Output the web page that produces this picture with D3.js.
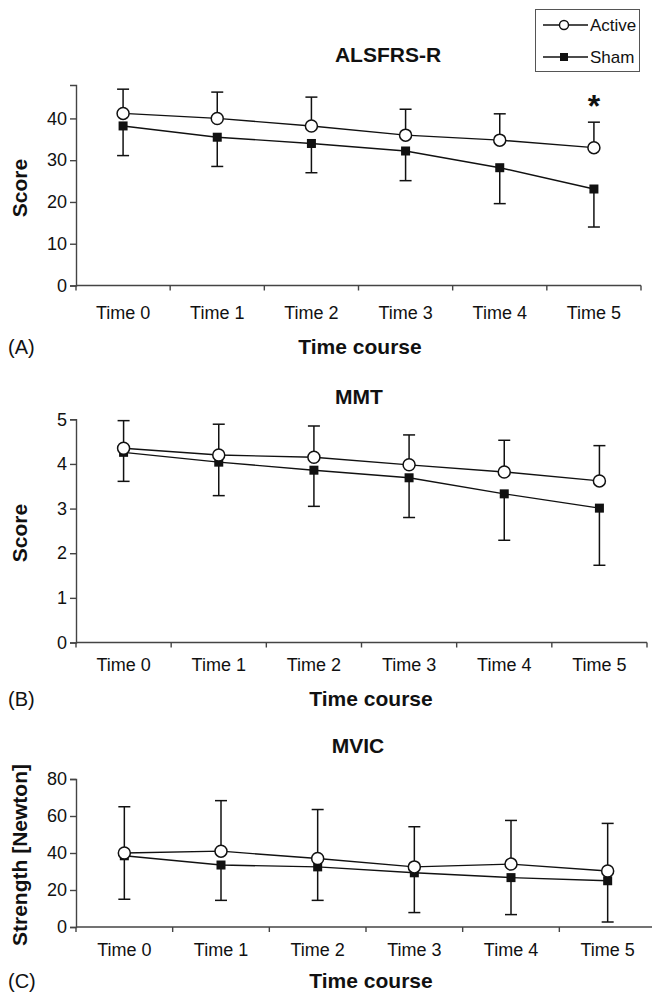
<!DOCTYPE html>
<html>
<head>
<meta charset="utf-8">
<script src="https://cdnjs.cloudflare.com/ajax/libs/d3/7.8.5/d3.min.js"></script>
<style>
  body { margin: 0; background: #fff; }
  text { font-family: "Liberation Sans", Arial, sans-serif; fill: #111; }
</style>
</head>
<body>
<div id="chart"></div>
<script>
// categories
let timePoints = ["Time 0", "Time 1", "Time 2", "Time 3", "Time 4", "Time 5"];

// (A) ALSFRS-R
let alsActive = [41.2, 40.0, 38.2, 36.0, 34.8, 33.0];
let alsActiveUpper = [47.0, 46.3, 45.1, 42.2, 41.1, 39.1];
let alsSham = [38.2, 35.5, 34.0, 32.2, 28.2, 23.1];
let alsShamLower = [31.1, 28.5, 27.0, 25.1, 19.6, 14.0];
let alsTicks = [0, 10, 20, 30, 40];

// (B) MMT
let mmtActive = [4.35, 4.20, 4.15, 3.98, 3.82, 3.62];
let mmtActiveUpper = [4.97, 4.89, 4.85, 4.65, 4.53, 4.41];
let mmtSham = [4.26, 4.04, 3.86, 3.69, 3.33, 3.01];
let mmtShamLower = [3.61, 3.29, 3.05, 2.80, 2.29, 1.73];
let mmtTicks = [0, 1, 2, 3, 4, 5];

// (C) MVIC
let mvicActive = [40.0, 41.0, 37.0, 32.5, 34.0, 30.3];
let mvicActiveUpper = [65.0, 68.3, 63.5, 54.2, 57.6, 56.0];
let mvicSham = [38.5, 33.5, 32.5, 29.3, 26.7, 25.0];
let mvicShamLower = [15.0, 14.4, 14.4, 7.8, 6.7, 2.7];
let mvicTicks = [0, 20, 40, 60, 80];

let svgWidth = 652;
let svgHeight = 992;

let svg = d3.select("#chart")
    .append("svg")
    .attr("width", svgWidth)
    .attr("height", svgHeight);

// panel layout (pixel boxes)
let panels = [
    {title: "ALSFRS-R", titleX: 388, titleY: 55, yLabel: "Score", yLabelY: 188, letter: "(A)",
     x0: 76, x1: 641, yTop: 85, yBottom: 285.5, yMax: 48, ticks: alsTicks,
     tickLabelY: 313, xTitleY: 347, xTitleX: 360,
     active: alsActive, activeUp: alsActiveUpper, sham: alsSham, shamLow: alsShamLower},
    {title: "MMT", titleX: 359, titleY: 397, yLabel: "Score", yLabelY: 533, letter: "(B)",
     x0: 76, x1: 647, yTop: 419.3, yBottom: 642.5, yMax: 5, ticks: mmtTicks,
     tickLabelY: 665, xTitleY: 699, xTitleX: 371,
     active: mmtActive, activeUp: mmtActiveUpper, sham: mmtSham, shamLow: mmtShamLower},
    {title: "MVIC", titleX: 358, titleY: 746, yLabel: "Strength [Newton]", yLabelY: 855, letter: "(C)",
     x0: 76, x1: 656, yTop: 779, yBottom: 927, yMax: 80, ticks: mvicTicks,
     tickLabelY: 950, xTitleY: 981, xTitleX: 371,
     active: mvicActive, activeUp: mvicActiveUpper, sham: mvicSham, shamLow: mvicShamLower}
];

function drawPanel(p) {
    let g = svg.append("g");

    let xScale = d3.scaleBand()
        .domain(timePoints)
        .range([p.x0, p.x1]);

    let yScale = d3.scaleLinear()
        .domain([0, p.yMax])
        .range([p.yBottom, p.yTop]);

    let cx = d => xScale(d) + xScale.bandwidth() / 2;

    // y axis
    let leftAxis = d3.axisLeft(yScale)
        .tickValues(p.ticks)
        .tickSize(6)
        .tickPadding(3)
        .tickFormat(d3.format("d"));

    let yAxis = g.append("g")
        .attr("transform", `translate(${p.x0},0)`)
        .call(leftAxis);
    yAxis.select(".domain").attr("stroke", "#444").attr("stroke-width", 1.4);
    yAxis.selectAll(".tick line").attr("stroke", "#444").attr("stroke-width", 1.4);
    yAxis.selectAll(".tick text")
        .attr("font-size", 18)
        .attr("font-family", "Liberation Sans, Arial, sans-serif")
        .attr("fill", "#111");

    // x axis: ticks at band edges
    let edges = timePoints.map(d => xScale(d)).concat([p.x1]);
    g.append("line")
        .attr("x1", p.x0).attr("x2", p.x1)
        .attr("y1", p.yBottom).attr("y2", p.yBottom)
        .attr("stroke", "#444").attr("stroke-width", 1.4);
    g.selectAll(".xtick")
        .data(edges)
        .enter()
        .append("line")
        .attr("x1", d => d).attr("x2", d => d)
        .attr("y1", p.yBottom).attr("y2", p.yBottom + 5)
        .attr("stroke", "#444").attr("stroke-width", 1.4);
    g.selectAll(".xlabel")
        .data(timePoints)
        .enter()
        .append("text")
        .attr("x", d => cx(d))
        .attr("y", p.tickLabelY)
        .attr("dy", "0.35em")
        .attr("text-anchor", "middle")
        .attr("font-size", 18)
        .text(d => d);

    // titles
    g.append("text")
        .attr("x", p.titleX).attr("y", p.titleY)
        .attr("dy", "0.35em")
        .attr("text-anchor", "middle")
        .attr("font-size", 21).attr("font-weight", "bold")
        .text(p.title);

    g.append("text")
        .attr("x", p.xTitleX).attr("y", p.xTitleY)
        .attr("dy", "0.35em")
        .attr("text-anchor", "middle")
        .attr("font-size", 21).attr("font-weight", "bold")
        .text("Time course");

    g.append("text")
        .attr("transform", `translate(20, ${p.yLabelY}) rotate(-90)`)
        .attr("dy", "0.35em")
        .attr("text-anchor", "middle")
        .attr("font-size", 21).attr("font-weight", "bold")
        .text(p.yLabel);

    g.append("text")
        .attr("x", 8).attr("y", p.xTitleY)
        .attr("dy", "0.35em")
        .attr("font-size", 20)
        .text(p.letter);

    // error bars: active goes up, sham goes down
    let errs = timePoints.map((t, i) => ({t: t, v: p.active[i], e: p.activeUp[i]}))
        .concat(timePoints.map((t, i) => ({t: t, v: p.sham[i], e: p.shamLow[i]})));

    g.selectAll(".err")
        .data(errs)
        .enter()
        .append("line")
        .attr("x1", d => cx(d.t)).attr("x2", d => cx(d.t))
        .attr("y1", d => yScale(d.v)).attr("y2", d => yScale(d.e))
        .attr("stroke", "#111").attr("stroke-width", 1.5);
    g.selectAll(".cap")
        .data(errs)
        .enter()
        .append("line")
        .attr("x1", d => cx(d.t) - 6).attr("x2", d => cx(d.t) + 6)
        .attr("y1", d => yScale(d.e)).attr("y2", d => yScale(d.e))
        .attr("stroke", "#111").attr("stroke-width", 1.5);

    // lines
    let line = d3.line()
        .x((d, i) => cx(timePoints[i]))
        .y(d => yScale(d));

    g.append("path")
        .datum(p.sham)
        .attr("d", line)
        .attr("fill", "none").attr("stroke", "#111").attr("stroke-width", 1.4);
    g.append("path")
        .datum(p.active)
        .attr("d", line)
        .attr("fill", "none").attr("stroke", "#111").attr("stroke-width", 1.4);

    // sham markers (filled squares)
    g.selectAll(".sq")
        .data(p.sham)
        .enter()
        .append("rect")
        .attr("x", (d, i) => cx(timePoints[i]) - 4.5)
        .attr("y", d => yScale(d) - 4.5)
        .attr("width", 9).attr("height", 9)
        .attr("fill", "#111");

    // active markers (open circles)
    g.selectAll(".dot")
        .data(p.active)
        .enter()
        .append("circle")
        .attr("cx", (d, i) => cx(timePoints[i]))
        .attr("cy", d => yScale(d))
        .attr("r", 6)
        .attr("fill", "#fff")
        .attr("stroke", "#111").attr("stroke-width", 1.5);

    return {xScale: xScale, yScale: yScale};
}

let scalesA = drawPanel(panels[0]);
drawPanel(panels[1]);
drawPanel(panels[2]);

// significance star at Time 5 of panel A
svg.append("text")
    .attr("x", scalesA.xScale("Time 5") + scalesA.xScale.bandwidth() / 2)
    .attr("y", 117)
    .attr("text-anchor", "middle")
    .attr("font-size", 32).attr("font-weight", "bold")
    .text("*");

// legend
let legend = svg.append("g");
legend.append("rect")
    .attr("x", 535.5).attr("y", 9.5)
    .attr("width", 104).attr("height", 62)
    .attr("fill", "#fff").attr("stroke", "#555").attr("stroke-width", 1);

let legendItems = [{name: "Active", y: 25}, {name: "Sham", y: 57}];
legendItems.forEach(function(item) {
    legend.append("line")
        .attr("x1", 543).attr("x2", 588)
        .attr("y1", item.y).attr("y2", item.y)
        .attr("stroke", "#111").attr("stroke-width", 1.4);
    if (item.name === "Active") {
        legend.append("circle")
            .attr("cx", 564).attr("cy", item.y).attr("r", 4.5)
            .attr("fill", "#fff").attr("stroke", "#111").attr("stroke-width", 1.4);
    }
    else {
        legend.append("rect")
            .attr("x", 560).attr("y", item.y - 4)
            .attr("width", 8).attr("height", 8)
            .attr("fill", "#111");
    }
    legend.append("text")
        .attr("x", 590).attr("y", item.y)
        .attr("dy", "0.35em")
        .attr("font-size", 17)
        .text(item.name);
});
</script>
</body>
</html>
